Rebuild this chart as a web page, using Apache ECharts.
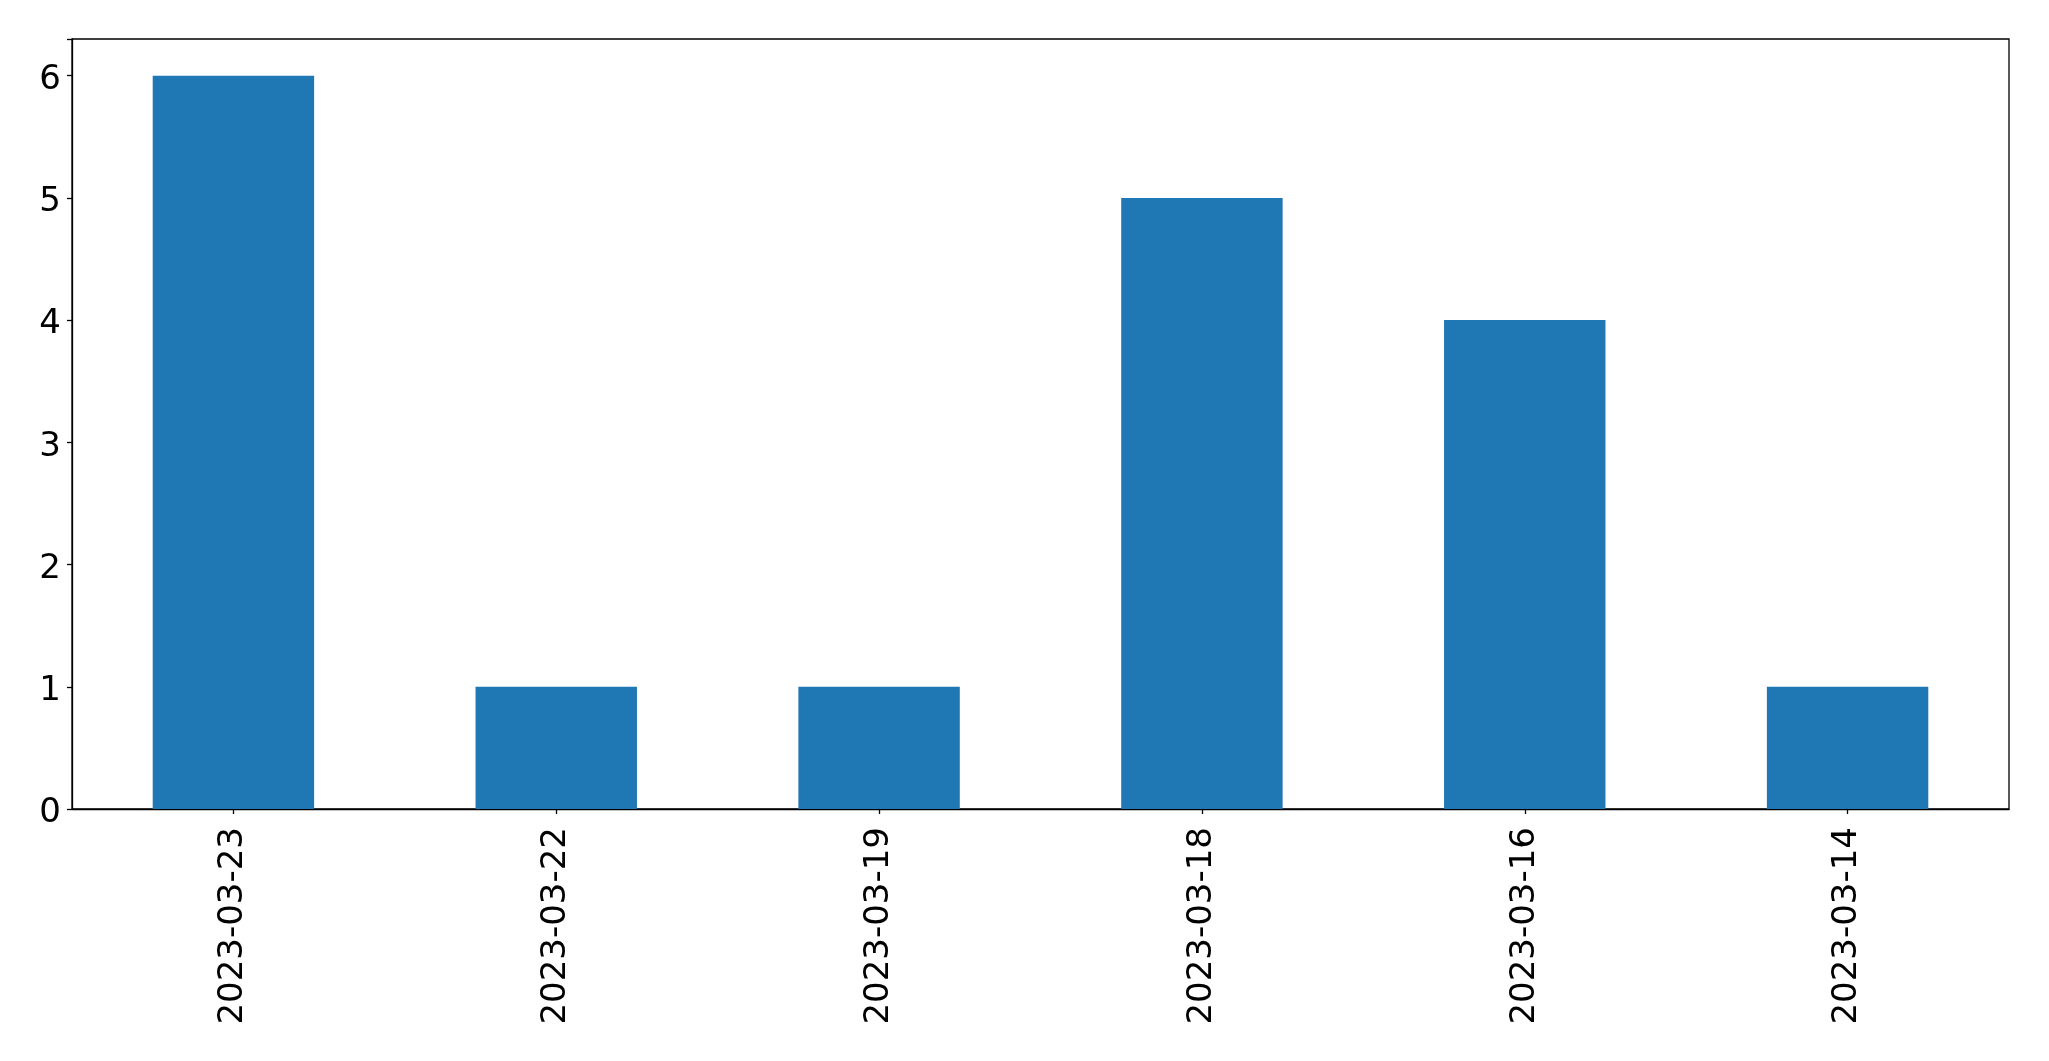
<!DOCTYPE html>
<html>
<head>
<meta charset="utf-8">
<script src="https://cdn.jsdelivr.net/npm/echarts@6/dist/echarts.min.js"></script>
<style>html,body{margin:0;padding:0;background:#fff;}#c{width:2049px;height:1061px;}</style>
</head>
<body>
<div id="c"></div>
<script>
const categories = ["2023-03-23", "2023-03-22", "2023-03-19", "2023-03-18", "2023-03-16", "2023-03-14"];
const values = [6, 1, 1, 5, 4, 1];
const yTicks = [0, 1, 2, 3, 4, 5, 6];

const chart = echarts.init(document.getElementById('c'), null, {renderer: 'canvas'});
chart.setOption({
  animation: false,
  backgroundColor: '#fff',
  grid: {left: 72, top: 39, width: 1937, height: 770, show: true, borderColor: '#000', borderWidth: 1.3, backgroundColor: 'transparent'},
  xAxis: {
    type: 'category',
    data: categories,
    axisLine: {show: true, lineStyle: {color: '#000', width: 1.3}},
    axisTick: {show: true, alignWithLabel: true, length: 5, lineStyle: {color: '#000', width: 1.3}},
    axisLabel: {rotate: 90, margin: 18, fontSize: 34, color: '#000', fontFamily: 'DejaVu Sans', interval: 0},
    splitLine: {show: false}
  },
  yAxis: {
    type: 'value',
    min: 0, max: 6.3, interval: 1,
    axisLine: {show: true, lineStyle: {color: '#000', width: 1.3}},
    axisTick: {show: true, length: 5, lineStyle: {color: '#000', width: 1.3}},
    axisLabel: {margin: 11, fontSize: 34, color: '#000', fontFamily: 'DejaVu Sans', verticalAlign: 'top', lineHeight: 9,
      formatter: function (v) { return yTicks.indexOf(v) >= 0 ? String(v) : ''; }},
    splitLine: {show: false}
  },
  series: [{
    type: 'bar',
    data: values,
    barWidth: '50%',
    itemStyle: {color: '#1f77b4'}
  }]
});
</script>
</body>
</html>
